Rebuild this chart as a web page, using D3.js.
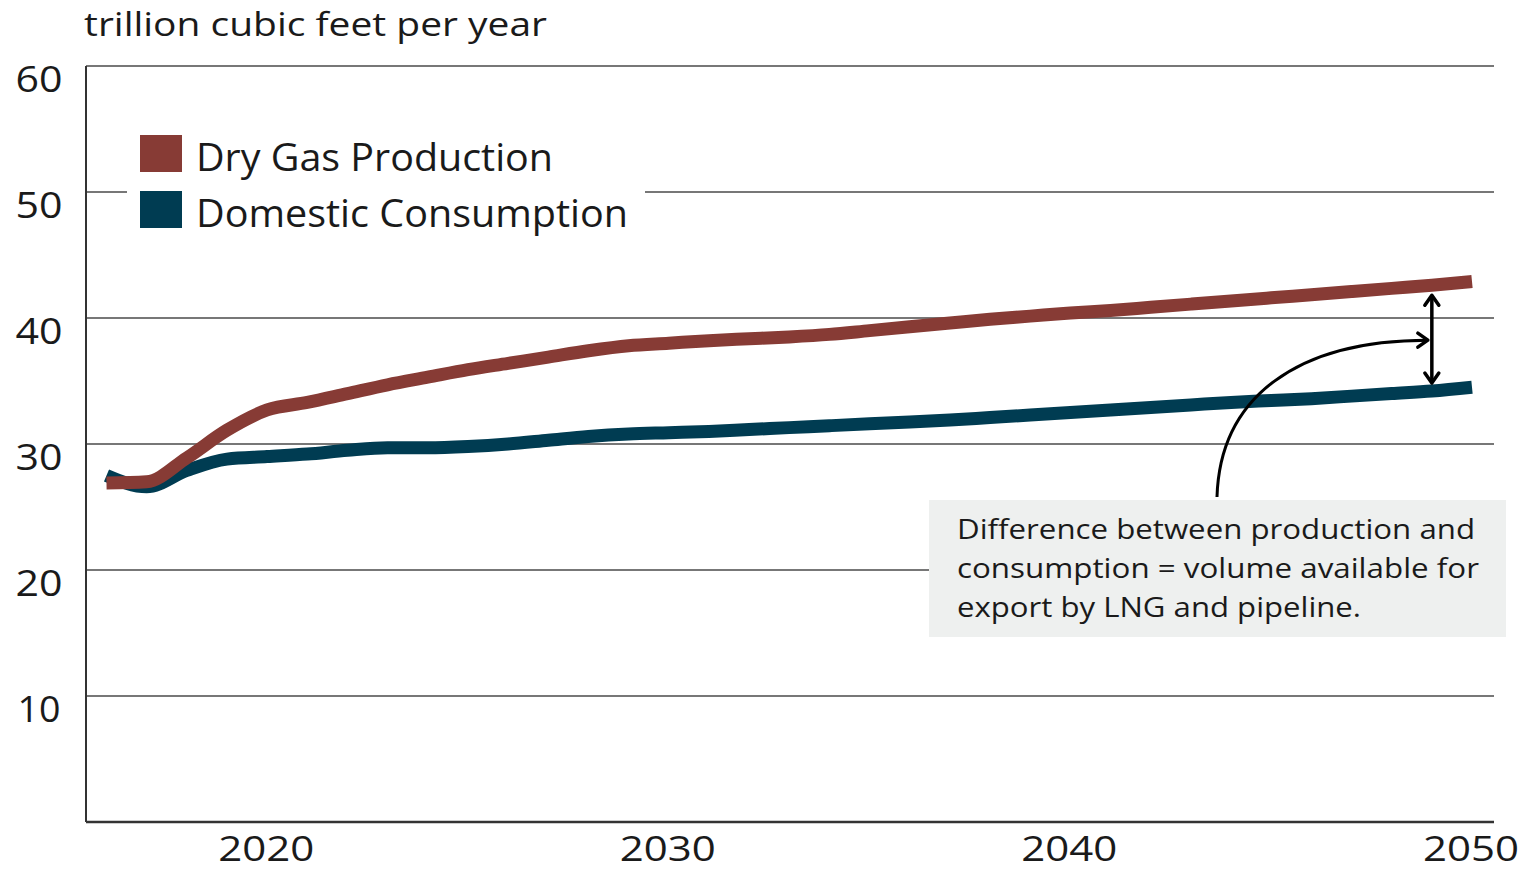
<!DOCTYPE html>
<html>
<head>
<meta charset="utf-8">
<script src="https://cdn.jsdelivr.net/npm/d3@7"></script>
<style>
  html, body { margin: 0; padding: 0; background: #ffffff; }
  svg { display: block; }
  text { font-family: "Open Sans", "Noto Sans", sans-serif; fill: #1a1a1a; }
</style>
</head>
<body>
<svg id="chart" width="1532" height="872"></svg>
<script>
// Natural gas outlook, trillion cubic feet per year
const years = d3.range(2016, 2051);
const production = [
  26.9, 27.0, 28.9, 31.1, 32.7, 33.3, 34.0, 34.7, 35.3, 35.9,
  36.4, 36.9, 37.4, 37.8, 38.0, 38.2, 38.35, 38.5, 38.7, 39.0,
  39.3, 39.6, 39.9, 40.15, 40.4, 40.6, 40.85, 41.1, 41.35, 41.6,
  41.85, 42.1, 42.35, 42.6, 42.9
];
const consumption = [
  27.5, 26.6, 27.9, 28.8, 29.0, 29.2, 29.5, 29.7, 29.7, 29.8,
  30.0, 30.3, 30.6, 30.8, 30.9, 31.0, 31.15, 31.3, 31.45, 31.6,
  31.75, 31.9, 32.1, 32.3, 32.5, 32.7, 32.9, 33.1, 33.3, 33.45,
  33.6, 33.8, 34.0, 34.2, 34.5
];
const seriesNames = ["Dry Gas Production", "Domestic Consumption"];
const seriesColors = ["#873b35", "#003c52"];
const yTicks = [10, 20, 30, 40, 50, 60];
const xTicks = [2020, 2030, 2040, 2050];
const unitLabel = "trillion cubic feet per year";
const noteLines = [
  "Difference between production and",
  "consumption = volume available for",
  "export by LNG and pipeline."
];
const arrowYear = 2049;

const svg = d3.select("#chart");
const plot = { left: 86, right: 1494, top: 66, bottom: 822 };

const x = d3.scaleLinear().domain([2016, 2050]).range([106.5, 1472]);
const y = d3.scaleLinear().domain([0, 60]).range([plot.bottom, plot.top]);

// Horizontal gridlines
svg.append("g")
  .selectAll("line")
  .data(yTicks)
  .join("line")
  .attr("x1", plot.left).attr("x2", plot.right)
  .attr("y1", d => y(d)).attr("y2", d => y(d))
  .attr("stroke", "#4a4a4a")
  .attr("stroke-width", 1.6);

// Axes frame: left and bottom
svg.append("line")
  .attr("x1", plot.left).attr("x2", plot.left)
  .attr("y1", plot.top).attr("y2", plot.bottom)
  .attr("stroke", "#333").attr("stroke-width", 2);
svg.append("line")
  .attr("x1", plot.left).attr("x2", plot.right)
  .attr("y1", plot.bottom).attr("y2", plot.bottom)
  .attr("stroke", "#333").attr("stroke-width", 2.5);

// Y tick labels
svg.append("g")
  .selectAll("text")
  .data(yTicks)
  .join("text")
  .attr("x", 39)
  .attr("y", d => y(d) + 26)
  .attr("text-anchor", "middle")
  .attr("font-size", 36)
  .attr("textLength", d => d === 10 ? 43 : 47)
  .attr("lengthAdjust", "spacingAndGlyphs")
  .text(d => d);

// X tick labels
svg.append("g")
  .selectAll("text")
  .data(xTicks)
  .join("text")
  .attr("x", d => x(d) - 1)
  .attr("y", 861)
  .attr("text-anchor", "middle")
  .attr("font-size", 34)
  .attr("textLength", 96)
  .attr("lengthAdjust", "spacingAndGlyphs")
  .text(d => d);

// Unit label
svg.append("text")
  .attr("x", 84).attr("y", 36)
  .attr("font-size", 33)
  .attr("textLength", 463)
  .attr("lengthAdjust", "spacingAndGlyphs")
  .text(unitLabel);

// Annotation box (sits over the 20 gridline)
const box = { x: 929, y: 500, w: 577, h: 137 };
svg.append("rect")
  .attr("x", box.x).attr("y", box.y)
  .attr("width", box.w).attr("height", box.h)
  .attr("fill", "#eef0ef");

const noteWidths = [518, 522, 404];
svg.append("g")
  .selectAll("text")
  .data(noteLines)
  .join("text")
  .attr("x", 957)
  .attr("y", (d, i) => 539 + i * 39)
  .attr("font-size", 28)
  .attr("textLength", (d, i) => noteWidths[i])
  .attr("lengthAdjust", "spacingAndGlyphs")
  .text(d => d);

// Series lines
const line = d3.line()
  .x((d, i) => x(years[i]))
  .y(d => y(d))
  .curve(d3.curveMonotoneX);

[consumption, production].forEach((vals, k) => {
  const color = k === 0 ? seriesColors[1] : seriesColors[0];
  svg.append("path")
    .datum(vals)
    .attr("d", line)
    .attr("fill", "none")
    .attr("stroke", color)
    .attr("stroke-width", 13)
    .attr("stroke-linejoin", "round")
    .attr("stroke-linecap", "butt");
});

// Legend panel (white background interrupts the 50 gridline)
svg.append("rect")
  .attr("x", 127).attr("y", 120)
  .attr("width", 518).attr("height", 120)
  .attr("fill", "#ffffff");

const legendWidths = [357, 432];
const legend = svg.append("g")
  .selectAll("g")
  .data(seriesNames)
  .join("g")
  .attr("transform", (d, i) => `translate(140, ${135 + i * 56})`);
legend.append("rect")
  .attr("width", 42).attr("height", 37)
  .attr("fill", (d, i) => seriesColors[i]);
legend.append("text")
  .attr("x", 56).attr("y", 36)
  .attr("font-size", 38)
  .attr("textLength", (d, i) => legendWidths[i])
  .attr("lengthAdjust", "spacingAndGlyphs")
  .text(d => d);

// Arrow markers
const defs = svg.append("defs");
defs.append("marker")
  .attr("id", "chev")
  .attr("viewBox", "-14 -10 17 20")
  .attr("refX", 0).attr("refY", 0)
  .attr("markerWidth", 17).attr("markerHeight", 20)
  .attr("markerUnits", "userSpaceOnUse")
  .attr("orient", "auto-start-reverse")
  .append("path")
  .attr("d", "M-10,-7 L0,0 L-10,7")
  .attr("fill", "none")
  .attr("stroke", "#000")
  .attr("stroke-width", 3.5)
  .attr("stroke-linecap", "round")
  .attr("stroke-linejoin", "round");

// Gap arrow between the two series
const ai = years.indexOf(arrowYear);
const ax = x(arrowYear);
svg.append("line")
  .attr("x1", ax).attr("x2", ax)
  .attr("y1", y(production[ai]) + 10)
  .attr("y2", y(consumption[ai]) - 8)
  .attr("stroke", "#000")
  .attr("stroke-width", 3.5)
  .attr("marker-start", "url(#chev)")
  .attr("marker-end", "url(#chev)");

// Curved pointer from the note to the gap arrow
const endX = ax - 4;
const endY = (y(production[ai]) + y(consumption[ai])) / 2 + 2;
const startX = 1217, startY = box.y - 3;
svg.append("path")
  .attr("d", `M${startX},${startY} C${startX + 3},${startY - 100} ${startX + 80},${endY} ${endX},${endY}`)
  .attr("fill", "none")
  .attr("stroke", "#000")
  .attr("stroke-width", 3)
  .attr("marker-end", "url(#chev)");
</script>
</body>
</html>
